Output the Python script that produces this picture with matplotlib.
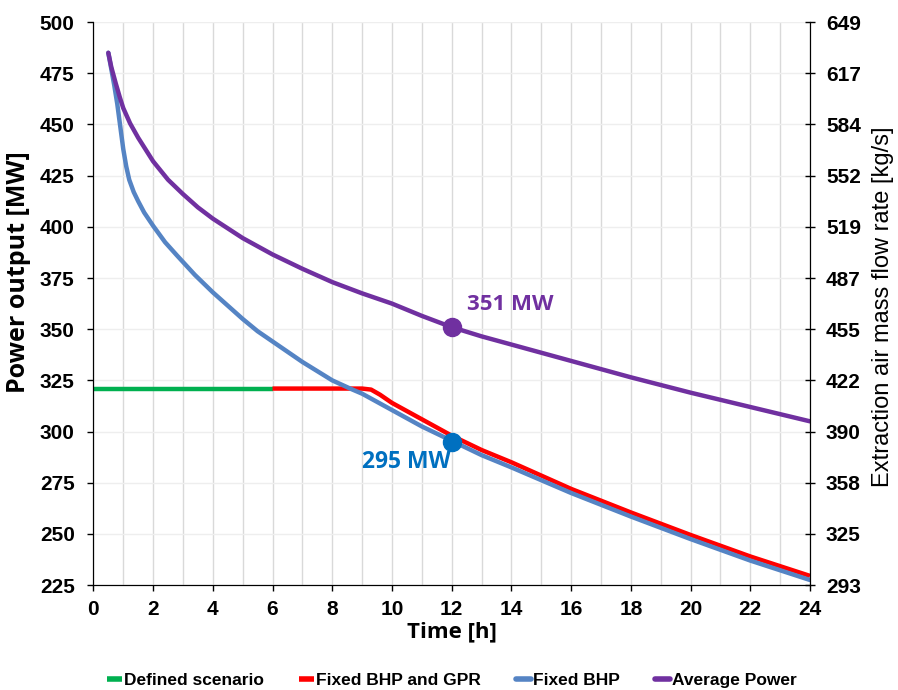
import matplotlib
matplotlib.use("Agg")
import matplotlib.pyplot as plt
from matplotlib.ticker import FixedLocator

plt.rcParams['font.family'] = ['Liberation Sans', 'DejaVu Sans']

# data
t_defined = [0, 6]
p_defined = [321, 321]

t_gpr = [6, 8, 9, 9.3, 9.6, 10, 10.5, 11, 12, 13, 14, 16, 18, 20, 22, 24]
p_gpr = [321, 321, 321, 320.5, 318, 314, 310, 306, 298, 291, 285, 272, 260.5, 249.5, 239, 229.5]

t_bhp = [0.5, 0.6, 0.7, 0.8, 0.9, 1.0, 1.1, 1.2, 1.35, 1.5, 1.7, 2.0, 2.4, 2.8, 3.4, 4.0, 4.5, 5.0, 5.5,
         6.0, 7.0, 8.0, 8.6, 9.0, 10.0, 11.0, 12.0, 13.0, 14.0, 16.0, 18.0, 20.0, 22.0, 24.0]
p_bhp = [485, 477, 469, 460, 449, 438, 429.5, 423, 417, 412.5, 407, 400.5, 392.5, 386, 376.5, 368, 361.5, 355, 349,
         344, 334, 325, 321, 318.5, 310.5, 302.5, 295.5, 288.5, 282.5, 270, 258.5, 247.5, 237, 227.5]

t_avg = [0.5, 0.6, 0.75, 0.89, 1.0, 1.23, 1.5, 2.0, 2.5, 3.0, 3.5, 4.0, 5.0, 6.0, 7.0, 8.0, 9.0, 10.0,
         11.0, 12.0, 13.0, 14.0, 15.0, 16.0, 17.0, 18.0, 20.0, 22.0, 24.0]
p_avg = [485, 478, 470, 463, 458, 450.5, 443.5, 432, 423, 416, 409.5, 404, 394.5, 386.5, 379.5, 373, 367.5, 362.5,
         356.5, 351, 346.5, 342.5, 338.5, 334.5, 330.5, 326.5, 319, 312, 305]

right_ticklabels = ['293', '325', '358', '390', '422', '455', '487', '519', '552', '584', '617', '649']

fig, ax = plt.subplots(figsize=(8.98, 6.9), dpi=100)
fig.subplots_adjust(left=0.104, right=0.902, top=0.968, bottom=0.152)

ax.plot(t_defined, p_defined, color='#00b050', lw=3.2, label='Defined scenario', solid_capstyle='butt')
ax.plot(t_gpr, p_gpr, color='#ff0000', lw=3.2, label='Fixed BHP and GPR', solid_capstyle='butt')
ax.plot(t_bhp, p_bhp, color='#5584c4', lw=3.2, label='Fixed BHP', solid_capstyle='round')
ax.plot(t_avg, p_avg, color='#7030a0', lw=3.2, label='Average Power', solid_capstyle='round')

ax.plot([12], [351], 'o', color='#7030a0', ms=13, zorder=5)
ax.plot([12], [295], 'o', color='#0070c0', ms=13, zorder=5)
ax.text(12.5, 357, '351 MW', color='#7030a0', fontsize=16, fontweight='bold',
        family='Open Sans', va='bottom')
ax.text(9.0, 285, '295 MW', color='#0070c0', fontsize=16.5, fontweight='bold',
        family='Open Sans', va='center')

ax.set_xlim(0, 24)
ax.set_ylim(225, 500)
ax.set_xticks(range(0, 25, 2))
ax.set_yticks(range(225, 501, 25))
ax.xaxis.set_minor_locator(FixedLocator(range(1, 24, 2)))
ax.grid(True, which='both', axis='x', color='#d9d9d9', lw=1)
ax.grid(True, which='major', axis='y', color='#eeeeee', lw=1)
ax.tick_params(which='minor', length=0)
ax.tick_params(labelsize=15, width=1, length=4.5)
ax.tick_params(axis='y', pad=9)
ax.tick_params(axis='x', pad=6)
for lab in ax.get_xticklabels() + ax.get_yticklabels():
    lab.set_fontweight('bold')
ax.set_xlabel('Time [h]', fontsize=16, fontweight='bold', family='Open Sans', labelpad=2)
ax.set_ylabel('Power output [MW]', fontsize=18, fontweight='bold', family='Open Sans')
ax.yaxis.set_label_coords(-0.087, 0.556)
ax.spines['top'].set_visible(False)

ax2 = ax.twinx()
ax2.set_ylim(225, 500)
ax2.set_yticks(range(225, 501, 25))
ax2.set_yticklabels(right_ticklabels)
ax2.tick_params(labelsize=15, width=1, length=7, direction='inout', pad=8)
for lab in ax2.get_yticklabels():
    lab.set_fontweight('bold')
ax2.set_ylabel('Extraction air mass flow rate [kg/s]', fontsize=17)
ax2.yaxis.set_label_coords(1.087, 0.494)
ax2.spines['top'].set_visible(False)

leg = ax.legend(loc='upper center', bbox_to_anchor=(0.5, -0.128), ncol=4, frameon=False,
                fontsize=12.5, handlelength=0.9, handletextpad=0.1, columnspacing=2.0)
for txt in leg.get_texts():
    txt.set_fontweight('bold')
for h in leg.get_lines():
    h.set_linewidth(4)

fig.savefig('out.png', dpi=100)
